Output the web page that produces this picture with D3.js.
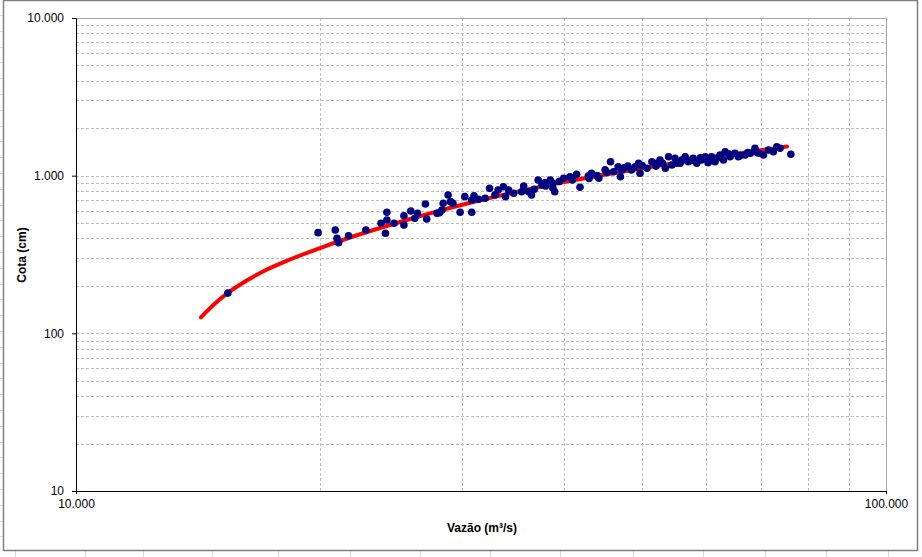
<!DOCTYPE html>
<html>
<head>
<meta charset="utf-8">
<script src="https://cdn.jsdelivr.net/npm/d3@7"></script>
<style>
  body { margin: 0; background: #fff; }
  text { font-family: "Liberation Sans", Arial, sans-serif; }
</style>
</head>
<body>
<script>
// medições (vazão m³/s, cota cm)
const vazao = [15400,19900,20900,21000,21100,21700,22800,23800,24200,24200,24100,24700,25400,25400,25900,26200,26400,27000,27100,27900,
  28100,28300,28400,28800,29000,29200,29800,30200,30800,30800,31400,32000,32400,32900,33200,33700,33900,34700,35700,36200,
  36500,37200,37600,37900,38800,38500,38800,39000,40000,40700,41500,41900,42900,43300,44200,45200,45700,46100,46700,47000,
  47200,48500,49000,49500,49700,50700,51400,52100,52600,53400,53900,54400,55200,54900,55700,56500,57000,57800,58400,59200,
  59800,60300,60900,61500,62400,63000,63300,64200,65100,65700,67000,68000,68900,69600,70600,71600,72600,73300,74000,76300,
  31000,34200,36800,39500,43000,44000,47500,50000,52000,57500,59000,61000,62000,64000,66000,67500,69000,56000,53000,48000,
  45000,41000,38000,35500];
const cota = [180,435,452,400,376,416,452,499,586,523,431,499,557,486,597,537,577,661,531,577,
  582,606,668,754,684,668,586,736,586,701,708,719,831,754,811,851,736,773,860,791,
  754,939,873,902,831,939,894,791,962,985,1020,844,995,1035,962,1050,1226,1060,1140,985,
  1086,1086,1140,1198,1035,1114,1226,1198,1257,1114,1319,1168,1198,1289,1198,1319,1226,1289,1198,1257,
  1319,1208,1319,1226,1352,1257,1419,1319,1387,1319,1352,1387,1491,1387,1352,1455,1419,1527,1491,1367,
  745,810,820,920,960,1000,1120,1160,1150,1250,1300,1260,1300,1370,1340,1400,1420,1260,1200,1150,
  1090,940,860,790];

// curva-chave
const curvaVazao = [14265,14800,15400,16170,17110,18370,20010,21790,23730,25850,28150,30660,33380,36360,39590,43120,46960,51140,55690,60650,66040,71920,75480];
const curvaCota = [126.4,152.3,180.3,213.1,250.3,293.9,347.7,405.3,465.6,531.1,600.4,672.9,747.4,823,899.7,977.8,1055,1135,1217,1302,1388,1478,1531];

// eixos
const xDomain = [10000, 100000];
const yDomain = [10, 10000];
const xLabelTicks = [10000, 100000];
const yLabelTicks = [10, 100, 1000, 10000];
const xAxisLabel = 'Vazão (m³/s)';
const yAxisLabel = 'Cota (cm)';

document.addEventListener('DOMContentLoaded', function(){
    render();
});

function render() {
    const svgWid = 922;
    const svgHt = 557;
    const margin = {top:18,right:36,bottom:66,left:76};
    const svg = d3.select('body').append('svg').attr('width',svgWid).attr('height',svgHt);

    const innerW = svgWid - margin.left - margin.right;
    const innerH = svgHt - margin.top - margin.bottom;

    // grade de células da planilha por fora do gráfico
    const bg = svg.append('g').attr('stroke','#d9d9d9').attr('stroke-width',1);
    d3.range(15, 551, 15.8).forEach(y => bg.append('line').attr('x1',0).attr('x2',3).attr('y1',Math.round(y)+0.5).attr('y2',Math.round(y)+0.5));
    [15,85,143,212,278,350,420,490,560,633,703,765,826,888].forEach(x => bg.append('line').attr('x1',x+0.5).attr('x2',x+0.5).attr('y1',551).attr('y2',557));

    // moldura
    svg.append('rect').attr('x',3.5).attr('y',0.5).attr('width',914).attr('height',550)
        .attr('fill','#fff').attr('stroke','#7f7f7f').attr('stroke-width',1.5);

    const xScale = d3.scaleLog().domain(xDomain).range([0,innerW]);
    const yScale = d3.scaleLog().domain(yDomain).range([innerH,0]);

    const fmt = d3.formatLocale({decimal:',', thousands:'.', grouping:[3], currency:['R$','']}).format(',d');

    const g = svg.append('g').attr('transform',`translate(${margin.left},${margin.top})`);

    // linhas de grade
    const grid = g.append('g').attr('stroke','#bfbfbf').attr('stroke-width',1).attr('stroke-dasharray','3,2');
    xScale.ticks().filter(t => t > xDomain[0]).forEach(t => {
        const x = Math.round(xScale(t)) + 0.5;
        grid.append('line').attr('x1',x).attr('x2',x).attr('y1',0).attr('y2',innerH);
    });
    yScale.ticks().filter(t => t > yDomain[0] && t < yDomain[1]).forEach(t => {
        const y = Math.round(yScale(t)) + 0.5;
        grid.append('line').attr('x1',0).attr('x2',innerW).attr('y1',y).attr('y2',y);
    });

    // borda da área de plotagem
    g.append('line').attr('x1',0).attr('x2',innerW).attr('y1',0.5).attr('y2',0.5).attr('stroke','#a6a6a6');
    g.append('line').attr('x1',innerW+0.5).attr('x2',innerW+0.5).attr('y1',0).attr('y2',innerH).attr('stroke','#a6a6a6');

    // eixo x
    const xAxis = d3.axisBottom(xScale).tickValues(xLabelTicks).tickFormat(fmt).tickSize(3).tickPadding(5);
    const xAxisG = g.append('g').attr('transform',`translate(0,${innerH})`).call(xAxis);
    xAxisG.select('.domain').attr('stroke','#000');
    xAxisG.selectAll('text').attr('font-size','12px').attr('fill','#000').attr('font-family','"Liberation Sans", Arial, sans-serif');
    xAxisG.append('text').text(xAxisLabel).attr('x',(482-margin.left)).attr('y',41)
        .attr('fill','#000').attr('text-anchor','middle').attr('font-weight','bold').attr('font-size','12px')
        .attr('font-family','"Liberation Sans", Arial, sans-serif');

    // eixo y
    const yAxis = d3.axisLeft(yScale).tickValues(yLabelTicks).tickFormat(fmt).tickSize(4).tickPadding(8);
    const yAxisG = g.append('g').call(yAxis);
    yAxisG.select('.domain').attr('stroke','#000');
    yAxisG.selectAll('text').attr('font-size','12px').attr('fill','#000').attr('font-family','"Liberation Sans", Arial, sans-serif');
    yAxisG.append('text').text(yAxisLabel).attr('transform',`translate(${22-margin.left},${255-margin.top}) rotate(-90)`)
        .attr('fill','#000').attr('text-anchor','middle').attr('dy','0.35em').attr('font-weight','bold').attr('font-size','12px')
        .attr('font-family','"Liberation Sans", Arial, sans-serif');

    // curva-chave
    const curva = curvaVazao.map((q,i) => ({q:q, h:curvaCota[i]}));
    const line = d3.line().x(d => xScale(d.q)).y(d => yScale(d.h)).curve(d3.curveMonotoneX);
    g.append('path').attr('d', line(curva)).attr('fill','none')
        .attr('stroke','#ff0000').attr('stroke-width',4).attr('stroke-linecap','round');

    // pontos medidos por cima da curva
    const pts = vazao.map((q,i) => ({q:q, h:cota[i]}));
    g.append('g').selectAll('circle').data(pts).enter()
        .append('circle')
        .attr('cx', d => xScale(d.q))
        .attr('cy', d => yScale(d.h))
        .attr('r', 3.8)
        .attr('fill', '#000080');
}
</script>
</body>
</html>
